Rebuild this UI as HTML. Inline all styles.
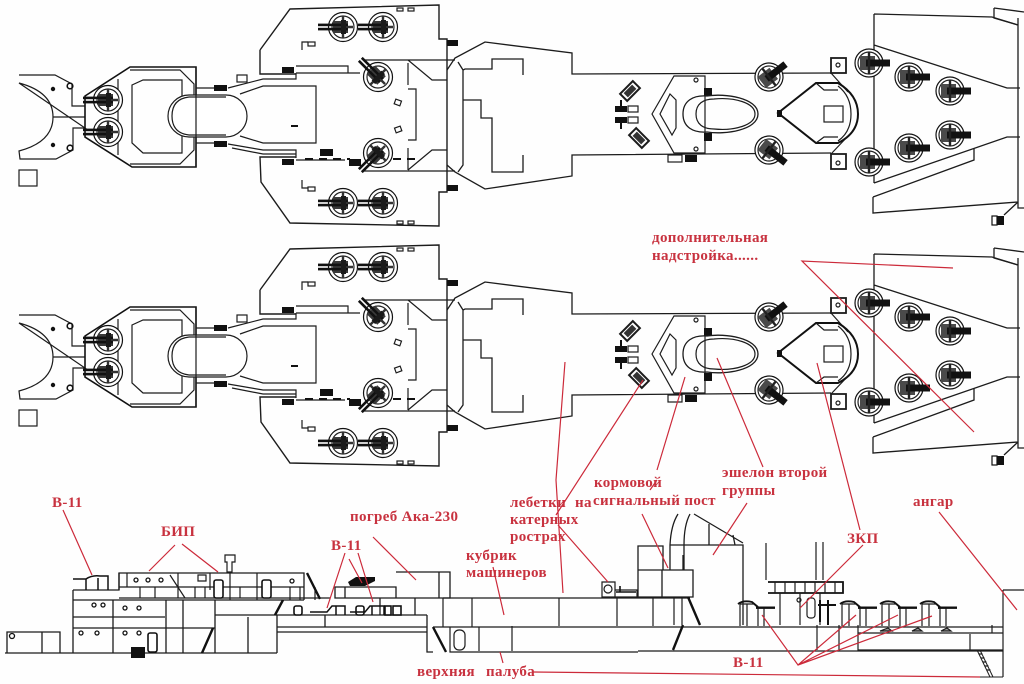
<!DOCTYPE html>
<html><head><meta charset="utf-8"><style>
html,body{margin:0;padding:0;background:#fff}
svg{display:block;stroke-width:1.2}
.l{fill:none;stroke:#1c1c1c}
.t{fill:none;stroke:#111}
.k{fill:#111;stroke:none}
.r{fill:none;stroke:#cc2a3a;stroke-width:1.2}
text{font-family:"Liberation Serif","Noto Serif CJK SC",serif;font-weight:bold;font-size:15px;letter-spacing:.35px;fill:#c8323f;stroke:none}
</style></head><body>
<svg width="1024" height="684" viewBox="0 0 1024 684" xmlns="http://www.w3.org/2000/svg">
<rect width="1024" height="684" fill="#fefefe"/>
<defs>
<g id="gun">
<circle r="14.5" fill="#fff" stroke="#111" stroke-width="1.2"/>
<circle r="11" fill="none" stroke="#222" stroke-width="1.2"/>
<path d="M0-11V11M-10 0H10" stroke="#333" stroke-width="2.4"/>
<rect x="-10" y="-6" width="15" height="12" fill="#3a3a3a"/>
<rect x="-25" y="-3.4" width="30" height="2.6" class="k"/>
<rect x="-25" y=".8" width="30" height="2.6" class="k"/>
<rect x="-2" y="-7" width="5" height="14" fill="#1a1a1a"/>
</g>
<g id="gunS">
<circle r="14" fill="#fff" stroke="#111" stroke-width="1.2"/>
<circle r="11" fill="none" stroke="#222" stroke-width="1.2"/>
<rect x="-9" y="-7" width="15" height="14" fill="#4a4a4a"/>
<rect x="-3" y="-3.5" width="24" height="7" class="k"/>
<path d="M0-11V11" stroke="#222" stroke-width="2.4"/>
</g>
<g id="plan">
<path class="l" d="M19 75H55L72 84V106H85M85 117H53M85 128H73V150L56 159H20L19 151Q53 142 53 117Q53 92 19 83Z"/>
<rect x="19" y="170" width="18" height="16" class="l"/>
<circle cx="53" cy="89" r="2.2" class="k"/><circle cx="53" cy="145" r="2.2" class="k"/>
<circle cx="70" cy="86" r="2.8" class="t" stroke-width="1.6"/><circle cx="70" cy="148" r="2.8" class="t" stroke-width="1.6"/>
<path class="t" stroke-width="1.6" d="M85 96L130 67H196V167H132L85 137Z"/>
<path class="l" d="M118 79V155M130 70H180L194 84V150L180 164H130"/>
<path class="l" d="M132 85L143 80H182V153H143L132 143Z"/>
<rect x="168" y="95" width="79" height="42" rx="21" class="l" style="fill:#fff"/>
<path class="l" d="M196 67V167M189 97H226M189 135H226M172 116Q172 99 189 97M172 116Q172 133 189 135"/>
<path class="l" d="M196 88H215M196 143H215M228 88L263 79H296V73M240 94L263 86H316V143H263L240 136M228 144L263 150H296V158"/>
<path class="l" d="M232 148L263 154H296"/>
<rect x="214" y="85" width="13" height="6" class="k"/><rect x="214" y="141" width="13" height="6" class="k"/>
<rect x="237" y="75" width="10" height="7" class="l"/>
<rect x="282" y="67" width="12" height="6" class="k"/><rect x="282" y="159" width="12" height="6" class="k"/>
<rect x="291" y="125" width="7" height="2" class="k"/>
<path class="l" stroke-width="1.4" d="M260 50L290 9L439 5V39H447V192H439V226L290 223L261 182L260 157H296M260 50V74H296"/>
<path class="l" d="M296 66H348V73M296 73H360M363 60H408H455M408 60L432 80H447M296 160H345M363 171H408M408 171H455M408 170L432 150H447M408 85V63M408 148V170M408 89H416V140H408"/>
<path class="t" stroke-width="2" stroke-dasharray="8 6" d="M305 159H350M393 159H415"/>
<rect x="320" y="149" width="13" height="7" class="k"/><rect x="349" y="159" width="12" height="7" class="k"/>
<rect x="395" y="100" width="6" height="5" class="l" transform="rotate(20 398 102)"/><rect x="395" y="127" width="6" height="5" class="l" transform="rotate(-20 398 129)"/>
<path class="l" d="M302 50V42H308M302 180V188H308"/>
<rect x="308" y="42" width="7" height="4" class="l"/><rect x="308" y="187" width="7" height="4" class="l"/>
<rect x="397" y="8" width="6" height="3" class="l"/><rect x="408" y="8" width="6" height="3" class="l"/>
<rect x="397" y="221" width="6" height="3" class="l"/><rect x="408" y="221" width="6" height="3" class="l"/>
<rect x="447" y="40" width="11" height="6" class="k"/><rect x="447" y="185" width="11" height="6" class="k"/>
<use href="#gun" x="343" y="27"/><use href="#gun" x="383" y="27"/>
<use href="#gun" x="343" y="203"/><use href="#gun" x="383" y="203"/>
<use href="#gun" transform="translate(378 77) rotate(45)"/><use href="#gun" transform="translate(378 153) rotate(-45)"/>
<use href="#gun" x="108" y="100"/><use href="#gun" x="108" y="132"/>
<path class="l" stroke-width="1.3" d="M447 70L455 58L485 42L572 53V74L831 73M447 165L455 172L485 189L572 176V155L831 153"/>
<path class="l" stroke-width="1.3" d="M463 100V70L465 69H492V59H523V75M463 100H481V118H492V172H523V155M463 70L458 62M463 100V165L458 172"/>
<path class="l" d="M652 114L674 76H705V153H674Z"/>
<path class="l" d="M660 114L670 94L676 100V128L672 135Z"/>
<rect x="704" y="88" width="8" height="8" class="k"/><rect x="704" y="133" width="8" height="8" class="k"/>
<path class="l" stroke-width="1.3" d="M683 114C683 101 693 95 707 96C725 93 758 98 758 114C758 130 725 135 707 132C693 133 683 127 683 114Z"/>
<path class="l" d="M696 114C696 104 703 99 714 99C735 97 755 103 755 114C755 125 735 131 714 129C703 129 696 124 696 114Z"/>
<circle cx="696" cy="80" r="2" class="l"/><circle cx="696" cy="149" r="2" class="l"/>
<rect x="668" y="155" width="14" height="7" class="l"/><rect x="685" y="155" width="12" height="7" class="k"/>
<g transform="translate(630 91) rotate(-45)"><rect x="-9" y="-5" width="18" height="10" class="l" stroke-width="2"/><rect x="-6" y="-3" width="12" height="6" fill="#333"/></g>
<g transform="translate(639 138) rotate(45)"><rect x="-9" y="-5" width="18" height="10" class="l" stroke-width="2"/><rect x="-6" y="-3" width="12" height="6" fill="#333"/></g>
<rect x="615" y="106" width="12" height="6" class="k"/><rect x="615" y="117" width="12" height="6" class="k"/>
<rect x="628" y="106" width="10" height="6" class="l"/><rect x="628" y="117" width="10" height="6" class="l"/>
<path class="t" stroke-width="2" d="M621 100V106M621 123V129"/>
<use href="#gunS" transform="translate(769 77) rotate(-38)"/><use href="#gunS" transform="translate(769 150) rotate(38)"/>
<rect x="831" y="58" width="15" height="15" class="l" stroke-width="1.8"/><circle cx="838" cy="65" r="2" class="l"/>
<rect x="831" y="154" width="15" height="15" class="l" stroke-width="1.8"/><circle cx="838" cy="163" r="2" class="l"/>
<path class="l" d="M831 73L848 92M831 154L848 136"/>
<path class="t" stroke-width="2" d="M778 113L816 83H838Q858 95 858 114Q858 133 838 143H816Z"/>
<path class="l" d="M838 86Q851 96 851 114Q851 132 838 141M816 83L824 90H838M816 143L824 137H838"/>
<rect x="824" y="106" width="19" height="16" class="l"/>
<rect x="777" y="110" width="5" height="7" class="k"/>
<path class="l" stroke-width="1.3" d="M874 14L992 17L1018 25M874 14V183M874 45L1007 88H1020M874 183L1007 137H1020"/>
<path class="l" stroke-width="1.3" d="M873 197L974 160V148M873 197V213L1018 202M994 8L1024 12M994 8V18L1018 25M1018 18V208H1024M1018 202L1004 215"/>
<use href="#gunS" x="869" y="63"/><use href="#gunS" x="909" y="77"/><use href="#gunS" x="950" y="91"/>
<use href="#gunS" x="950" y="135"/><use href="#gunS" x="909" y="148"/><use href="#gunS" x="869" y="162"/>
<rect x="992" y="216" width="12" height="9" class="k"/><rect x="992" y="216" width="5" height="9" fill="#fff" stroke="#111"/>
</g>
<g id="sg">
<path class="l" d="M0 0H14L18 4V22M0 0V22M7 0V22M24 4V22"/>
<path class="t" d="M-2 0Q3-4 12-2L18 3" stroke-width="1.8"/>
<rect x="16" y="2.5" width="19" height="2.4" class="k"/>
</g>
</defs>
<use href="#plan"/>
<use href="#plan" y="240"/>

<!-- side elevation -->
<path class="l" stroke-width="1.3" d="M7 632H60V653H7ZM42 632V653M60 632V653M5 653H277M73 590V653M73 590H119V573H304V600M73 600H304M73 617H165M73 628H215M119 587H304M119 598H330"/>
<path class="l" stroke-width="1.3" d="M113 600V653M166 600V653M183 600V653M215 600V653M248 617V653M277 615V653M215 615H427M277 627H427M277 632H427M427 615V652H433M325 615V627M119 573V590"/>
<path class="l" d="M127 573V587M178 573V598M210 573V590M230 573V600M257 573V600M170 575L185 598M140 587V598M155 587V598M195 598V587M205 598V587M240 598V587M290 587V600M300 587V600M315 587V600M198 575H206V581H198ZM222 580V598"/>
<path class="l" d="M225 555H235V562H232V572H227V562H225Z"/>
<path class="t" stroke-width="2.4" d="M307 573L320 599M275 615L283 600M202 653L213 628M433 627L446 652"/>
<path class="l" stroke-width="1.3" d="M335 587H396V598H335ZM396 572H450V598H396M439 572V598M345 587V598M380 598V615M415 598V615"/>
<path class="l" d="M443 598V627M472 598V627M450 627V652H638M433 627H1003M479 627V651M512 626V651M443 598H690M559 598V626M617 598V626M653 598V626M674 598V625M682 598V625"/>
<rect x="454" y="630" width="11" height="20" rx="5" class="l"/>
<path class="l" stroke-width="1.3" d="M638 651H1003"/>
<g fill="none" stroke="#111" stroke-width="1.3">
<circle cx="136" cy="580" r="2"/><circle cx="148" cy="580" r="2"/><circle cx="161" cy="580" r="2"/>
<circle cx="94" cy="605" r="2"/><circle cx="103" cy="605" r="2"/><circle cx="125" cy="608" r="2"/><circle cx="139" cy="608" r="2"/>
<circle cx="81" cy="633" r="2"/><circle cx="97" cy="633" r="2"/><circle cx="125" cy="633" r="2"/><circle cx="139" cy="633" r="2"/><circle cx="292" cy="581" r="2"/>
<circle cx="12" cy="636" r="2.5"/>
</g>
<g fill="#fff" stroke="#111" stroke-width="1.6">
<rect x="214" y="580" width="9" height="18" rx="2"/><rect x="262" y="580" width="9" height="18" rx="2"/>
<rect x="148" y="633" width="9" height="19" rx="2"/><rect x="294" y="606" width="8" height="9" rx="2"/>
<rect x="356" y="606" width="8" height="9" rx="2"/><rect x="385" y="606" width="6" height="9"/><rect x="393" y="606" width="8" height="9"/>
</g>
<rect x="131" y="647" width="14" height="11" class="k" fill="#333"/>
<path class="t" stroke-width="1.5" d="M73 579H86Q92 575 100 576H108V590M86 579V590M98 578V590"/>
<path class="t" stroke-width="1.5" d="M310 612H327L332 606H345V615M336 606V615M350 612H365L370 606H384V615M372 606V615"/>
<path class="k" d="M348 582L356 577H375V581L365 586H350Z"/>
<!-- right side -->
<path class="l" stroke-width="1.3" d="M638 546H663V570H638ZM638 570H693V597H638ZM662 570V597M670 545H743V625M670 545Q671 525 678 514M684 545Q684 525 690 514M694 514L743 543M709 524V545M733 535L735 545M670 545V570M684 545V570"/>
<path class="t" stroke-width="2.4" d="M688 597L700 625M683 625L673 650"/>
<path class="l" stroke-width="1.3" d="M683 555V570"/>
<path class="l" d="M602 582H615V597H602ZM615 590H637V597H615"/>
<circle cx="608" cy="589" r="4" class="l"/>
<path class="t" stroke-width="1.6" d="M616 592H636M620 586V592"/>
<path class="t" stroke-width="1.8" d="M768 582H843V593H768"/>
<path class="l" d="M766 543V580M816 542V580M823 542V580M775 582V593M785 582V593M795 582V593M805 582V593M815 582V593M825 582V593M835 582V593M780 593V625M820 593V625M800 593V625M817 625V650M839 625V650M858 633H1003M858 625V650H1003M992 625V633M970 634V650M1003 590H1024M1003 590V677"/>
<path class="t" stroke-width="2" d="M818 605H836M820 600V622M828 600V625"/>
<rect x="807" y="598" width="8" height="20" rx="3" class="l"/>
<circle cx="799" cy="600" r="2" class="l"/>
<use href="#sg" x="740" y="604"/>
<use href="#sg" x="842" y="604"/>
<use href="#sg" x="882" y="604"/>
<use href="#sg" x="922" y="604"/>
<path class="l" d="M880 631H892L888 628ZM912 631H922L918 628ZM941 631H951L947 628Z" style="fill:#999"/>
<path class="l" d="M977 650L990 677M980 650L993 677M976 677H1003" stroke-width="1"/>
<path d="M978.5 654h4M980.5 658h4M982.5 662h4M984.5 666h4M986.5 670h4" class="l"/>

<!-- red lines -->
<g class="r">
<path d="M63 510L92 575M175 545L149 571M182 544L218 572M373 537L416 580"/>
<path d="M345 553L327 608M349 559L362 583M358 553L373 602M493 567L504 615M500 652L503 663"/>
<path d="M565 362L556 480L563 593M643 380L556 515M558 525L608 582M685 377L657 470M650 490L657 480M642 514L668 568"/>
<path d="M717 358L763 467M747 503L713 555M817 363L860 530M863 545L800 608M939 512L1017 610"/>
<path d="M762 615L798 665L856 615M798 665L898 615M798 665L932 616"/>
<path d="M533 672L980 677"/>
<path d="M953 268L802 261L974 432"/>
</g>
<!-- labels -->
<text x="52" y="507">В-11</text>
<text x="161" y="536">БИП</text>
<text x="350" y="521">погреб Ака-230</text>
<text x="331" y="550">В-11</text>
<text x="466" y="560">кубрик</text>
<text x="466" y="577">машинеров</text>
<text x="510" y="507">лебетки</text><text x="575" y="507">на</text>
<text x="510" y="524">катерных</text>
<text x="510" y="541">рострах</text>
<text x="594" y="487">кормовой</text>
<text x="593" y="505">сигнальный пост</text>
<text x="722" y="477">эшелон второй</text>
<text x="722" y="495">группы</text>
<text x="847" y="543">ЗКП</text>
<text x="913" y="506">ангар</text>
<text x="652" y="242">дополнительная</text>
<text x="652" y="260">надстройка......</text>
<text x="417" y="676">верхняя</text>
<text x="486" y="676">палуба</text>
<text x="733" y="667">В-11</text>
</svg>
</body></html>
